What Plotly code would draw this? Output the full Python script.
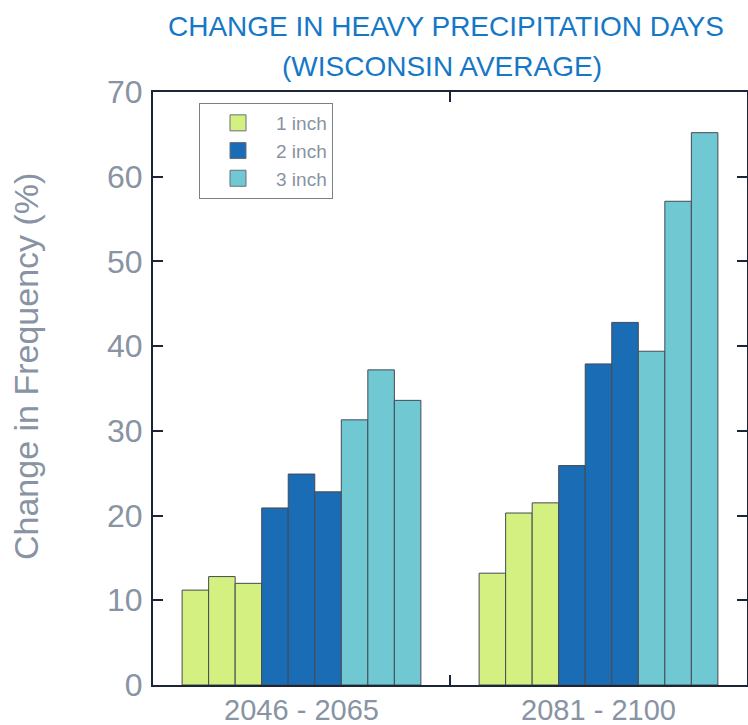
import plotly.graph_objects as go

# Projection periods (x categories)
periods = ["2046 - 2065", "2081 - 2100"]

# Change in frequency (%) of heavy-precipitation days, three runs per threshold
one_inch_run1 = [11.2, 13.2]
one_inch_run2 = [12.8, 20.3]
one_inch_run3 = [12.0, 21.5]
two_inch_run1 = [20.9, 25.9]
two_inch_run2 = [24.9, 37.9]
two_inch_run3 = [22.8, 42.8]
three_inch_run1 = [31.3, 39.4]
three_inch_run2 = [37.2, 57.1]
three_inch_run3 = [33.6, 65.2]

thresholds = ["1 inch", "2 inch", "3 inch"]
series = [
    [one_inch_run1, one_inch_run2, one_inch_run3],
    [two_inch_run1, two_inch_run2, two_inch_run3],
    [three_inch_run1, three_inch_run2, three_inch_run3],
]
y_ticks = [0, 10, 20, 30, 40, 50, 60, 70]

title_lines = ["CHANGE IN HEAVY PRECIPITATION DAYS", "(WISCONSIN AVERAGE)"]
y_title = "Change in Frequency (%)"

colors = ["#d4f081", "#1a6db5", "#6fc8d2"]
gray_text = "#8893a3"
frame = "#1c2536"
font_main = "Liberation Sans, Arial, sans-serif"

x_pos = [0.5, 1.5]

fig = go.Figure()
for thr, runs, col in zip(thresholds, series, colors):
    for i, vals in enumerate(runs):
        fig.add_trace(go.Bar(
            x=x_pos, y=vals, name=f"{thr} run {i + 1}",
            marker=dict(color=col, line=dict(color="#454a53", width=1)),
            showlegend=False,
        ))
    # legend entry with a larger square swatch
    fig.add_trace(go.Scatter(
        x=[None], y=[None], mode="markers", name=thr,
        marker=dict(symbol="square", size=16, color=col,
                    line=dict(color="#6a6f78", width=1)),
        showlegend=True,
    ))

# two-line title and rotated y-axis title
annotations = [
    dict(text=title_lines[0], x=(446 - 153) / 594, y=(685 - 27) / 593,
         xref="paper", yref="paper", xanchor="center", yanchor="middle",
         showarrow=False, font=dict(family=font_main, size=28, color="#1677c6")),
    dict(text=title_lines[1], x=(442 - 153) / 594, y=(685 - 66) / 593,
         xref="paper", yref="paper", xanchor="center", yanchor="middle",
         showarrow=False, font=dict(family=font_main, size=28, color="#1677c6")),
    dict(text=y_title, textangle=-90, x=(26 - 153) / 594, y=(685 - 367) / 593,
         xref="paper", yref="paper", xanchor="center", yanchor="middle",
         showarrow=False, font=dict(family=font_main, size=34, color=gray_text)),
]

fig.update_layout(
    width=748, height=725,
    margin=dict(l=153, r=1, t=92, b=40),
    paper_bgcolor="white", plot_bgcolor="white",
    barmode="group", bargap=0.196, bargroupgap=0,
    annotations=annotations,
    legend=dict(
        x=(199 - 153) / 594, y=(685 - 103) / 593,
        xanchor="left", yanchor="top",
        bordercolor="#7a7f88", borderwidth=1, bgcolor="white",
        font=dict(family=font_main, size=19, color=gray_text),
        itemwidth=66, tracegroupgap=0,
    ),
    xaxis=dict(
        range=[0, 2], tickvals=x_pos, ticktext=periods, automargin=False,
        ticks="", showline=True, linecolor=frame, linewidth=2, mirror="ticks",
        showgrid=False, zeroline=False,
        tickfont=dict(family=font_main, size=29, color=gray_text),
        ticklabelstandoff=-2,
        minor=dict(tickvals=[1], ticks="inside", ticklen=10, tickcolor=frame,
                   tickwidth=2, showgrid=False),
    ),
    yaxis=dict(
        range=[0, 70], tickvals=y_ticks, automargin=False,
        ticks="inside", ticklen=10, tickcolor=frame, tickwidth=2,
        showline=True, linecolor=frame, linewidth=2, mirror="ticks",
        showgrid=False, zeroline=False,
        tickfont=dict(family=font_main, size=32, color=gray_text),
        ticklabelstandoff=2,
    ),
)

fig.write_html("out.html")
